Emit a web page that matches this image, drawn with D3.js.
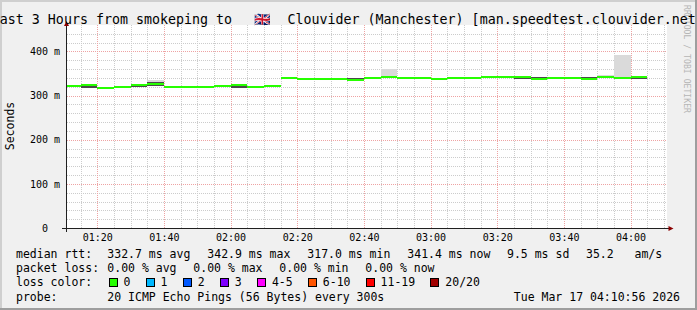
<!DOCTYPE html>
<html>
<head>
<meta charset="utf-8">
<script src="https://cdn.jsdelivr.net/npm/d3@7"></script>
<style>
body { margin: 0; background: #fff; }
svg { display: block; }
text { font-family: "DejaVu Sans Mono", monospace; fill: #000; white-space: pre; }
</style>
</head>
<body>
<script>
var width = 697,
    height = 310;

var titleLeft = "Last 3 Hours from smokeping to",
    titleFlag = "🇬🇧",
    titleRight = "Clouvider (Manchester) [man.speedtest.clouvider.net]";

// start of each 5 min step
var stepStarts = ["01:10","01:15","01:20","01:25","01:30","01:35","01:40","01:45","01:50","01:55",
                  "02:00","02:05","02:10","02:15","02:20","02:25","02:30","02:35","02:40","02:45",
                  "02:50","02:55","03:00","03:05","03:10","03:15","03:20","03:25","03:30","03:35",
                  "03:40","03:45","03:50","03:55","04:00"];

// median rtt (ms)
var median = [321,323,317,318.6,324.3,326,320.5,320.5,319,321.7,
              323,319,322.8,341,338,338,338,336.4,341,341.3,
              341,341,337,341,341,342.9,342.9,341.4,338,341,
              339,338,342,339,341.4];
// dense smoke (middle pings)
var coreLo = [320,317,317,318.6,320.5,321,320.5,320.5,319,321.7,
              318,319,322.8,341,338,338,338,336.4,341,341.3,
              341,337,337,341,341,342.9,342.9,337,338,341,
              339,338,342,339,337.5];
var coreHi = [324,323,317,318.6,324.3,331,320.5,320.5,319,324.5,
              323,319,322.8,341,338,338,338,341,341,344.5,
              341,341,341,341,341,342.9,342.9,341.4,342.5,341,
              339,342,342,342,341.4];
// outer smoke (min / max ping)
var smokeLo = [320,317,317,318.6,319,321,320.5,317,319,321.7,
               318,319,322.8,341,338,338,338,336.4,341,341.3,
               341,337,337,341,341,342.9,342.9,337,338,341,
               339,338,342,339,337.5];
var smokeHi = [324,323,317,318.6,324.3,336,320.5,320.5,319,324.5,
               323,319,322.8,341,338,338,338,341,341,361,
               341,341,341,341,341,342.9,342.9,341.4,342.5,341,
               342.5,342,346,393,341.4];

var yMajor = [0,100,200,300,400];
var lossLabels = ["0","1","2","3","4-5","6-10","11-19","20/20"];
var lossColors = ["#26ff00","#00b8ff","#0059ff","#7e00ff","#ff00ff","#ff5500","#ff0000","#a10000"];

var rttLabel = "median rtt:",
    rttStats = ["332.7 ms avg","342.9 ms max","317.0 ms min","341.4 ms now","9.5 ms sd","35.2","am/s"];
var lossLabel = "packet loss:",
    lossStats = ["0.00 % avg","0.00 % max","0.00 % min","0.00 % now"];
var probeText = "20 ICMP Echo Pings (56 Bytes) every 300s",
    stampText = "Tue Mar 17 04:10:56 2026";

var parseT = d3.timeParse("%Y-%m-%d %H:%M:%S");
var tStart = parseT("2026-03-17 01:10:56"),
    tEnd = parseT("2026-03-17 04:10:56");
var steps = stepStarts.map(function(s, i) {
  var t0 = parseT("2026-03-17 " + s + ":00");
  return {t0: t0, t1: d3.timeMinute.offset(t0, 5), med: median[i],
          cLo: coreLo[i], cHi: coreHi[i], sLo: smokeLo[i], sHi: smokeHi[i]};
});

var x = d3.scaleTime().domain([tStart, tEnd]).range([67, 667]);
var y = d3.scaleLinear().domain([0, 460]).range([228, 25]);

var svg = d3.select("body").append("svg")
    .attr("width", width)
    .attr("height", height);

// frame
svg.append("rect").attr("width", width).attr("height", height).attr("fill", "#f0f0f0");
svg.append("rect").attr("x", 0).attr("y", 0).attr("width", width).attr("height", 2).attr("fill", "#cfcfcf");
svg.append("rect").attr("x", 0).attr("y", 0).attr("width", 2).attr("height", height).attr("fill", "#cfcfcf");
svg.append("rect").attr("x", 0).attr("y", height - 2).attr("width", width).attr("height", 2).attr("fill", "#9e9e9e");
svg.append("rect").attr("x", width - 2).attr("y", 0).attr("width", 2).attr("height", height).attr("fill", "#9e9e9e");

// canvas
svg.append("rect")
    .attr("x", 67).attr("y", 25)
    .attr("width", 600).attr("height", 203)
    .attr("fill", "#fff");

// grid
var minorT = d3.timeMinute.every(5).range(tStart, tEnd),
    majorT = d3.timeMinute.every(20).range(tStart, tEnd),
    minorY = d3.range(0, 460, 20);

var grid = svg.append("g").attr("shape-rendering", "crispEdges");
grid.selectAll(".vmin").data(minorT).enter().append("line")
    .attr("x1", function(d) { return Math.round(x(d)) + 0.5; })
    .attr("x2", function(d) { return Math.round(x(d)) + 0.5; })
    .attr("y1", 25).attr("y2", 228)
    .attr("stroke", "#cccccc").attr("stroke-dasharray", "1,1");
grid.selectAll(".hmin").data(minorY).enter().append("line")
    .attr("x1", 67).attr("x2", 667)
    .attr("y1", function(d) { return Math.round(y(d)) + 0.5; })
    .attr("y2", function(d) { return Math.round(y(d)) + 0.5; })
    .attr("stroke", "#cccccc").attr("stroke-dasharray", "1,1");
grid.selectAll(".vmaj").data(majorT).enter().append("line")
    .attr("x1", function(d) { return Math.round(x(d)) + 0.5; })
    .attr("x2", function(d) { return Math.round(x(d)) + 0.5; })
    .attr("y1", 25).attr("y2", 228)
    .attr("stroke", "#eea3a3").attr("stroke-dasharray", "1,1");
grid.selectAll(".hmaj").data(yMajor).enter().append("line")
    .attr("x1", 67).attr("x2", 667)
    .attr("y1", function(d) { return Math.round(y(d)) + 0.5; })
    .attr("y2", function(d) { return Math.round(y(d)) + 0.5; })
    .attr("stroke", "#eea3a3").attr("stroke-dasharray", "1,1");

// smoke + median
var data = svg.append("g").attr("shape-rendering", "crispEdges");
function sx(d) { return Math.max(x(d.t0), 67); }
function sw(d) { return x(d.t1) - sx(d); }

data.selectAll(".smoke").data(steps).enter().append("rect")
    .attr("x", sx).attr("width", sw)
    .attr("y", function(d) { return y(d.sHi); })
    .attr("height", function(d) { return y(d.sLo) - y(d.sHi); })
    .attr("fill", "#dadada");
data.selectAll(".core").data(steps).enter().append("rect")
    .attr("x", sx).attr("width", sw)
    .attr("y", function(d) { return y(d.cHi); })
    .attr("height", function(d) { return y(d.cLo) - y(d.cHi); })
    .attr("fill", "#4a4a4a");
data.selectAll(".med").data(steps).enter().append("rect")
    .attr("x", sx).attr("width", sw)
    .attr("y", function(d) { return y(d.med) - 1; })
    .attr("height", 2)
    .attr("fill", lossColors[0]);

// axes lines
svg.append("line").attr("x1", 62).attr("x2", 669).attr("y1", 228.5).attr("y2", 228.5)
    .attr("stroke", "#202020");
svg.append("line").attr("x1", 66.5).attr("x2", 66.5).attr("y1", 232).attr("y2", 24)
    .attr("stroke", "#202020");
svg.append("path").attr("d", "M673.5,228.5L668.5,226L668.5,231Z").attr("fill", "#8b0000");
svg.append("path").attr("d", "M66.5,21L64,26L69,26Z").attr("fill", "#8b0000");

// tick labels
var xAxis = svg.append("g")
    .attr("transform", "translate(0,228)")
    .call(d3.axisBottom(x).tickValues(majorT).tickFormat(d3.timeFormat("%H:%M")).tickSize(0).tickPadding(6));
xAxis.select(".domain").remove();
xAxis.selectAll("text").attr("font-size", 10).attr("font-family", "DejaVu Sans Mono").attr("fill", "#000");

var yAxis = svg.append("g")
    .attr("transform", "translate(67,0)")
    .call(d3.axisLeft(y).tickValues(yMajor).tickFormat(function(d) { return d ? d + " m" : "0  "; }).tickSize(0).tickPadding(7));
yAxis.select(".domain").remove();
yAxis.selectAll("text").attr("font-size", 10).attr("font-family", "DejaVu Sans Mono").attr("fill", "#000");

svg.append("text")
    .attr("transform", "translate(14,126) rotate(-90)")
    .attr("text-anchor", "middle")
    .attr("font-size", 11.5)
    .text("Seconds");

// watermark
svg.append("text")
    .attr("transform", "translate(684,5) rotate(90)")
    .attr("font-size", 9)
    .attr("textLength", 108)
    .attr("lengthAdjust", "spacingAndGlyphs")
    .style("fill", "#b5b5b5")
    .text("RRDTOOL / TOBI OETIKER");

// title
svg.append("text").attr("x", 232).attr("y", 24).attr("text-anchor", "end").attr("font-size", 13.3).text(titleLeft);
svg.append("text").attr("x", 262).attr("y", 24).attr("text-anchor", "middle").attr("font-size", 13.3).text(titleFlag);
svg.append("text").attr("x", 287.5).attr("y", 24).attr("font-size", 13.3).text(titleRight);

// legend
var leg = svg.append("g").attr("font-size", 11.5);
var statX = [107.3, 207.3, 307.3, 407.3, 507, 586, 634.5];
leg.append("text").attr("x", 16).attr("y", 258).text(rttLabel);
leg.selectAll(".rtt").data(rttStats).enter().append("text")
    .attr("x", function(d, i) { return statX[i]; }).attr("y", 258).text(function(d) { return d; });

var lossX = [107.3, 193.3, 279.3, 365.3];
leg.append("text").attr("x", 16).attr("y", 272.2).text(lossLabel);
leg.selectAll(".loss").data(lossStats).enter().append("text")
    .attr("x", function(d, i) { return lossX[i]; }).attr("y", 272.2).text(function(d) { return d; });

leg.append("text").attr("x", 16).attr("y", 286.4).text("loss color:");
var bx = 108.5, boxX = [];
lossLabels.forEach(function(l) { boxX.push(bx); bx += 15 + l.length * 6.9 + 15.2; });
var items = leg.selectAll(".lc").data(lossLabels).enter().append("g")
    .attr("transform", function(d, i) { return "translate(" + boxX[i] + ",0)"; });
items.append("rect").attr("x", 0.5).attr("y", 278).attr("width", 8).attr("height", 8)
    .attr("fill", function(d, i) { return lossColors[i]; })
    .attr("stroke", "#000").attr("shape-rendering", "crispEdges");
items.append("text").attr("x", 15).attr("y", 286.4).text(function(d) { return d; });

leg.append("text").attr("x", 16).attr("y", 300.6).text("probe:");
leg.append("text").attr("x", 107.3).attr("y", 300.6).text(probeText);
leg.append("text").attr("x", 680).attr("y", 300.6).attr("text-anchor", "end").text(stampText);
</script>
</body>
</html>
